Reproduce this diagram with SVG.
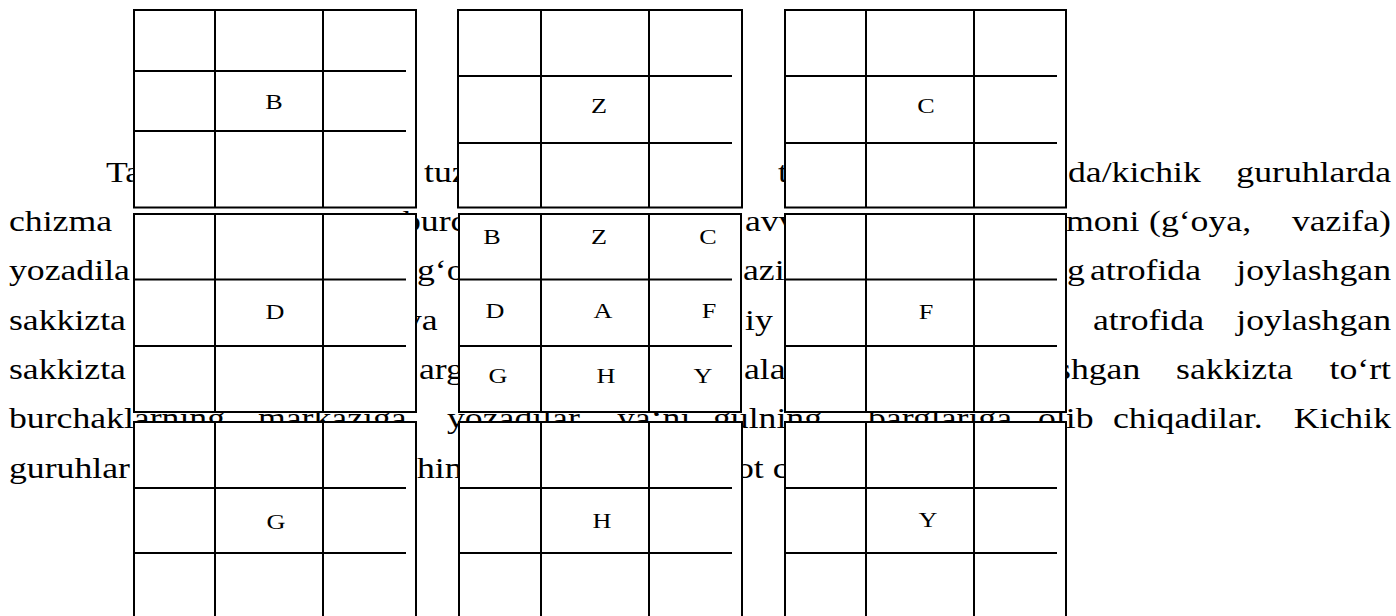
<svg xmlns="http://www.w3.org/2000/svg" width="1396" height="616" viewBox="0 0 1396 616">
<style>
.box{fill:#fff;stroke:#000;stroke-width:2}
.ln{stroke:#000;stroke-width:2;fill:none}
.body{font-family:"Liberation Serif","Times New Roman",serif;font-size:30px;fill:#000}
.end{text-anchor:end}
.lbl{font-family:"Liberation Serif","Times New Roman",serif;font-size:22px;fill:#000;text-anchor:middle}
</style>
<rect width="1396" height="616" fill="#fff"/>
<g id="paragraph" class="body" transform="scale(1.19 1)">
  <text x="89.08" y="182">Ta</text>
  <text x="356.3" y="182">tuz</text>
  <text x="653.78" y="182">t</text>
  <text x="897.48" y="182">da/kichik</text>
  <text x="1168.91" y="182" class="end">guruhlarda</text>

  <text x="7.56" y="231">chizma</text>
  <text x="338.66" y="231">burc</text>
  <text x="626.05" y="231">avv</text>
  <text x="895.8" y="231">moni</text>
  <text x="965.55" y="231">(g‘oya,</text>
  <text x="1168.91" y="231" class="end">vazifa)</text>

  <text x="7.56" y="280.5">yozadila</text>
  <text x="350.42" y="280.5">g‘o</text>
  <text x="624.37" y="280.5">azi</text>
  <text x="896.64" y="280.5">g</text>
  <text x="915.97" y="280.5">atrofida</text>
  <text x="1168.91" y="280.5" class="end">joylashgan</text>

  <text x="7.56" y="330">sakkizta</text>
  <text x="339.5" y="330">ya</text>
  <text x="626.05" y="330">iy</text>
  <text x="918.49" y="330">atrofida</text>
  <text x="1168.91" y="330" class="end">joylashgan</text>

  <text x="7.56" y="379">sakkizta</text>
  <text x="352.1" y="379">arg</text>
  <text x="625.21" y="379">alar</text>
  <text x="888.24" y="379">shgan</text>
  <text x="988.24" y="379">sakkizta</text>
  <text x="1168.91" y="379" class="end">to‘rt</text>

  <text x="7.56" y="428.5">burchaklarning</text>
  <text x="216.81" y="428.5">markaziga</text>
  <text x="375.63" y="428.5">yozadilar,</text>
  <text x="518.49" y="428.5">ya‘ni</text>
  <text x="599.16" y="428.5">gulning</text>
  <text x="729.41" y="428.5">barglariga</text>
  <text x="872.27" y="428.5">olib</text>
  <text x="935.29" y="428.5">chiqadilar.</text>
  <text x="1168.91" y="428.5" class="end">Kichik</text>

  <text x="7.56" y="478">guruhlar</text>
  <text x="350.42" y="478">hin</text>
  <text x="618.49" y="478">ot c</text>
</g>

<g id="table-B">
  <rect class="box" x="134" y="10" width="282" height="197.5"/>
  <path class="ln" d="M215 10V207.5M323 10V207.5M134 71H406M134 131H406"/>
  <text class="lbl" transform="scale(1.19 1)" x="230.25" y="109">B</text>
</g>
<g id="table-Z">
  <rect class="box" x="458" y="10" width="284" height="197.5"/>
  <path class="ln" d="M541 10V207.5M649 10V207.5M458 76H732M458 143H732"/>
  <text class="lbl" transform="scale(1.19 1)" x="503.36" y="113">Z</text>
</g>
<g id="table-C">
  <rect class="box" x="785" y="10" width="281" height="197.5"/>
  <path class="ln" d="M866 10V207.5M974 10V207.5M785 76H1057M785 143H1057"/>
  <text class="lbl" transform="scale(1.19 1)" x="778.15" y="113">C</text>
</g>

<g id="table-D">
  <rect class="box" x="134" y="214" width="282" height="198"/>
  <path class="ln" d="M215 214V412M323 214V412M134 279.5H406M134 346H406"/>
  <text class="lbl" transform="scale(1.19 1)" x="231.09" y="319">D</text>
</g>
<g id="table-A">
  <rect class="box" x="459" y="214" width="282" height="198"/>
  <path class="ln" d="M541 214V412M649 214V412M459 279.5H732M459 346H732"/>
  <g class="lbl" transform="scale(1.19 1)">
    <text x="413.45" y="244">B</text>
    <text x="503.36" y="244">Z</text>
    <text x="594.96" y="244">C</text>
    <text x="415.97" y="318">D</text>
    <text x="506.72" y="318">A</text>
    <text x="595.8" y="318">F</text>
    <text x="418.49" y="383">G</text>
    <text x="509.24" y="383">H</text>
    <text x="590.76" y="383">Y</text>
  </g>
</g>
<g id="table-F">
  <rect class="box" x="785" y="214" width="281" height="198"/>
  <path class="ln" d="M866 214V412M974 214V412M785 279.5H1057M785 346H1057"/>
  <text class="lbl" transform="scale(1.19 1)" x="778.15" y="319">F</text>
</g>

<g id="table-G">
  <rect class="box" x="134" y="422" width="282" height="200"/>
  <path class="ln" d="M215 422V622M323 422V622M134 488H406M134 553H406"/>
  <text class="lbl" transform="scale(1.19 1)" x="231.93" y="529">G</text>
</g>
<g id="table-H">
  <rect class="box" x="459" y="422" width="283" height="200"/>
  <path class="ln" d="M541 422V622M649 422V622M459 488H732M459 553H732"/>
  <text class="lbl" transform="scale(1.19 1)" x="505.88" y="528">H</text>
</g>
<g id="table-Y">
  <rect class="box" x="785" y="422" width="281" height="200"/>
  <path class="ln" d="M866 422V622M974 422V622M785 488H1057M785 553H1057"/>
  <text class="lbl" transform="scale(1.19 1)" x="779.83" y="527">Y</text>
</g>
</svg>
